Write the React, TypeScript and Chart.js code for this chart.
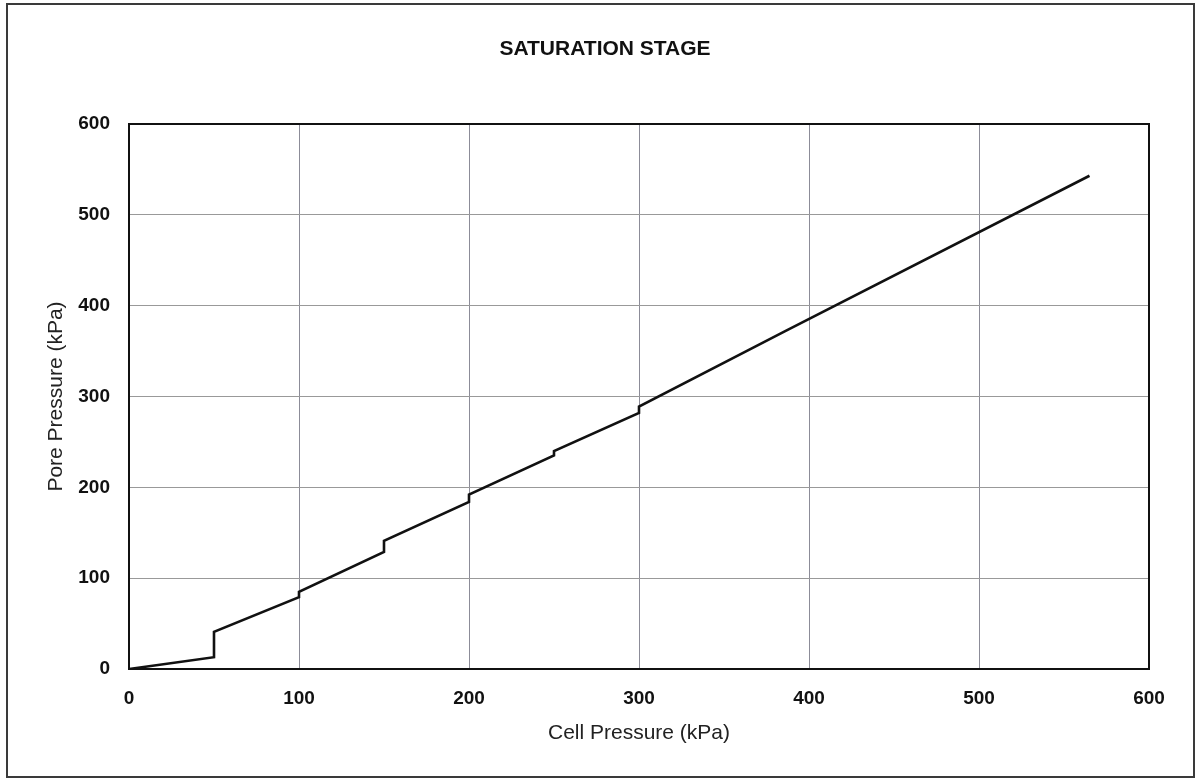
import React, { useEffect, useRef } from "react";
import { Chart, registerables } from "chart.js";

Chart.register(...registerables);

const chartTitle = "SATURATION STAGE";
const xAxisTitle = "Cell Pressure (kPa)";
const yAxisTitle = "Pore Pressure (kPa)";

const cellPressure = [0, 50, 50, 100, 100, 150, 150, 200, 200, 250, 250, 300, 300, 386, 565];
const porePressure = [0, 13, 41, 79, 85, 129, 141, 184, 192, 235, 240, 282, 289, 372, 543];

const axisMin = 0;
const axisMax = 600;
const axisStep = 100;

const FONT = "'Liberation Sans', Arial, Helvetica, sans-serif";

const plotFrame = {
  id: "plotFrame",
  afterDatasetsDraw(chart: any) {
    const { ctx, chartArea } = chart;
    ctx.save();
    ctx.strokeStyle = "#111";
    ctx.lineWidth = 2;
    ctx.strokeRect(chartArea.left, chartArea.top, chartArea.right - chartArea.left, chartArea.bottom - chartArea.top);
    ctx.restore();
  },
};

export default function App() {
  const ref = useRef<HTMLCanvasElement | null>(null);

  useEffect(() => {
    if (!ref.current) return;
    const points = cellPressure.map((x, i) => ({ x, y: porePressure[i] }));
    const chart = new Chart(ref.current, {
      type: "line",
      data: {
        datasets: [
          {
            data: points,
            borderColor: "#111",
            borderWidth: 2.6,
            pointRadius: 0,
            tension: 0,
            fill: false,
          },
        ],
      },
      options: {
        responsive: false,
        animation: false,
        devicePixelRatio: 1,
        layout: { padding: { left: 61, right: 48, top: 0, bottom: 0 } },
        plugins: {
          legend: { display: false },
          tooltip: { enabled: false },
          title: {
            display: true,
            text: chartTitle,
            color: "#111",
            font: { family: FONT, size: 21, weight: "bold", lineHeight: 1.2 },
            padding: { top: 37, bottom: 61.8 },
          },
        },
        scales: {
          x: {
            type: "linear",
            min: axisMin,
            max: axisMax,
            border: { display: false },
            grid: { color: "#8c8c98", lineWidth: 1, drawTicks: false },
            ticks: {
              stepSize: axisStep,
              padding: 18,
              color: "#111",
              font: { family: FONT, size: 19, weight: "bold", lineHeight: 1.2 },
              maxRotation: 0,
            },
            title: {
              display: true,
              text: xAxisTitle,
              color: "#222",
              font: { family: FONT, size: 21, lineHeight: 1.2 },
              padding: { top: 0, bottom: 36.4 },
            },
            afterFit(scale: any) {
              scale.height = 113;
            },
          },
          y: {
            type: "linear",
            min: axisMin,
            max: axisMax,
            border: { display: false },
            grid: { color: "#999999", lineWidth: 1, drawTicks: false },
            ticks: {
              stepSize: axisStep,
              padding: 19,
              color: "#111",
              font: { family: FONT, size: 19, weight: "bold", lineHeight: 1.2 },
            },
            title: {
              display: true,
              text: yAxisTitle,
              color: "#222",
              font: { family: FONT, size: 21, lineHeight: 1.2 },
              padding: { top: -17.6, bottom: 0 },
            },
            afterFit(scale: any) {
              scale.width = 68;
            },
          },
        },
      },
      plugins: [plotFrame],
    });
    return () => chart.destroy();
  }, []);

  return (
    <div style={{ position: "fixed", left: 0, top: 0, width: 1197, height: 782, background: "#fff" }}>
      <canvas ref={ref} width={1197} height={782} style={{ width: 1197, height: 782, display: "block" }} />
      <div
        style={{
          position: "absolute",
          left: 6,
          top: 3,
          width: 1189,
          height: 775,
          border: "2px solid #3a3a3a",
          boxSizing: "border-box",
          pointerEvents: "none",
        }}
      />
    </div>
  );
}
